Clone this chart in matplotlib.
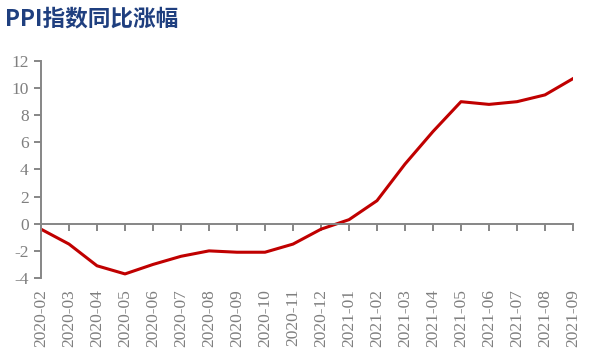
import matplotlib
matplotlib.use("Agg")
import matplotlib.pyplot as plt

months = ["2020-02", "2020-03", "2020-04", "2020-05", "2020-06", "2020-07",
          "2020-08", "2020-09", "2020-10", "2020-11", "2020-12", "2021-01",
          "2021-02", "2021-03", "2021-04", "2021-05", "2021-06", "2021-07",
          "2021-08", "2021-09"]
ppi_yoy = [-0.4, -1.5, -3.1, -3.7, -3.0, -2.4, -2.0, -2.1, -2.1, -1.5,
           -0.4, 0.3, 1.7, 4.4, 6.8, 9.0, 8.8, 9.0, 9.5, 10.7]
y_ticks = [-4, -2, 0, 2, 4, 6, 8, 10, 12]

axis_grey = "#868686"
label_grey = "#7f7f7f"

fig = plt.figure(figsize=(5.91, 3.54), dpi=100)
ax = fig.add_axes([0.0694, 0.2147, 0.9001, 0.613])

x = list(range(len(months)))
ax.plot(x, ppi_yoy, color="#C00000", linewidth=2.2, solid_joinstyle="round")

ax.set_xlim(0, len(months) - 1)
ax.set_ylim(-4, 12)
ax.set_yticks(y_ticks)
ax.set_yticklabels([str(v) for v in y_ticks], family="Liberation Serif",
                   fontsize=12.5, color=label_grey)

for s in ["top", "right"]:
    ax.spines[s].set_visible(False)
ax.spines["left"].set_color(axis_grey)
ax.spines["left"].set_linewidth(1.4)
ax.spines["bottom"].set_position(("data", 0))
ax.spines["bottom"].set_color(axis_grey)
ax.spines["bottom"].set_linewidth(1.4)

ax.tick_params(axis="y", direction="out", length=5, width=1.4, color=axis_grey, pad=4)
ax.set_xticks(x)
ax.tick_params(axis="x", direction="out", length=5, width=1.4, color=axis_grey,
               labelbottom=False)

# month labels along the bottom of the plot
sec = ax.secondary_xaxis("bottom")
sec.set_xticks(x)
sec.set_xticklabels(months, rotation=90, family="Liberation Serif",
                    fontsize=12.5, color=label_grey)
sec.tick_params(length=0, pad=8)
sec.spines["bottom"].set_visible(False)

fig.text(0.008, 0.945, "PPI指数同比涨幅", family=["Noto Sans CJK SC", "DejaVu Sans"],
         fontsize=16.3, fontweight="bold", color="#1F3F7F", va="center", ha="left")

fig.savefig("out.png", dpi=100)
